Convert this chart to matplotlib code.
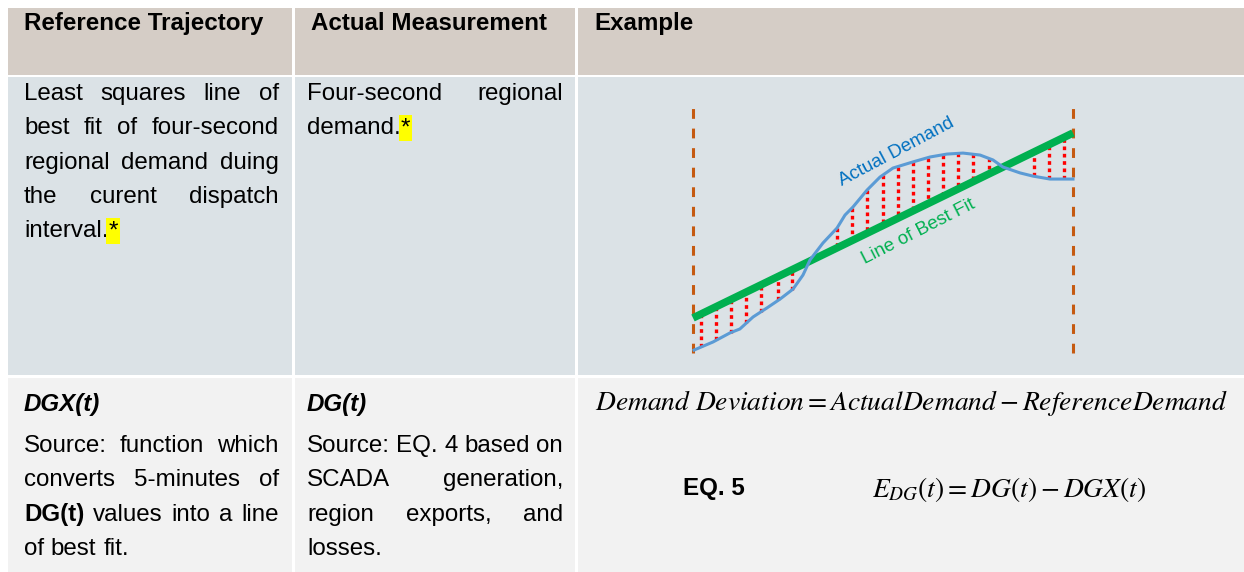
import numpy as np
import matplotlib
matplotlib.use('Agg')
import matplotlib.pyplot as plt
from matplotlib.patches import Rectangle

plt.rcParams['font.family'] = ['Liberation Sans', 'DejaVu Sans']
plt.rcParams['mathtext.fontset'] = 'stix'

# ---- table content ----
headers = ['Reference Trajectory', 'Actual Measurement', 'Example']
ref_lines = ['Least squares line of', 'best fit of four-second',
             'regional demand duing', 'the curent dispatch', 'interval.*']
act_lines = ['Four-second regional', 'demand.*']
dgx_title = 'DGX(t)'
dgx_lines = ['Source: function which', 'converts 5-minutes of',
             '**DG(t) values into a line', 'of best fit.']
dg_title = 'DG(t)'
dg_lines = ['Source: EQ. 4 based on', 'SCADA generation,',
            'region exports, and', 'losses.']
eq_deviation = r'$Demand\ Deviation = ActualDemand - ReferenceDemand$'
eq_label = 'EQ. 5'
eq_error = r'$E_{DG}(t) = DG(t) - DGX(t)$'

# ---- example chart data (seconds in the 5-minute interval, demand 0-100) ----
demand_t = [0.8, 15.8, 29.2, 37, 47.4, 58.4, 68.7, 79, 86.8, 92.4, 102.6,
            113.7, 120, 126.3, 137.4, 147.6, 157.9, 173.7, 187.1, 200.5,
            213.2, 226.6, 236.8, 244.7, 258.2, 268.4, 281.8, 300]
demand_v = [1.2, 4.5, 8.2, 9.8, 14.7, 18.4, 22, 26.1, 31.8, 38, 44.9,
            51, 56.3, 59.6, 66.5, 71.8, 75.5, 78, 80, 81.2,
            81.6, 80.8, 78.8, 75.9, 73.5, 72.2, 71, 71]
fit_t = [0, 300]
fit_v = [14.3, 89.8]
dev_t = [6.3, 18.2, 30, 41.8, 53.7, 67.1, 78.2, 113.7, 125.5, 137.4, 150,
         161.8, 173.7, 185.5, 197.4, 209.2, 221, 233.7, 269.2, 281.1, 292.9]

W, H = 1244, 572
FS = 17.4

fig = plt.figure(figsize=(W / 100, H / 100), dpi=100)
fig.patch.set_facecolor('white')
ax = fig.add_axes([0, 0, 1, 1])
ax.set_xlim(0, W)
ax.set_ylim(H, 0)
ax.axis('off')
r = fig.canvas.get_renderer()

# cells
cols = [(8, 292), (295, 575), (578, 1244)]
rows = [(8, 75, '#d5cdc6'), (77, 375, '#dbe2e6'), (378, 572, '#f2f2f2')]
for y0, y1, c in rows:
    for x0, x1 in cols:
        ax.add_patch(Rectangle((x0, y0), x1 - x0, y1 - y0, fc=c, ec='none'))


def width(t):
    return t.get_window_extent(renderer=r).width


def put_line(x0, x1, yb, line, justify):
    pieces = []
    for w in line.split(' '):
        bold = w.startswith('**')
        star = (not bold) and w.endswith('*')
        w = w[2:] if bold else (w[:-1] if star else w)
        t = ax.text(0, yb, w, fontsize=FS, va='baseline',
                    fontweight='bold' if bold else 'normal')
        s = None
        if star:
            s = ax.text(0, yb, '*', fontsize=FS, va='baseline',
                        bbox=dict(boxstyle='square,pad=0.08', fc='#ffff00', ec='none'))
        pieces.append((t, s))
    ws = [width(t) + (width(s) if s else 0) for t, s in pieces]
    if justify and len(pieces) > 1:
        gap = (x1 - x0 - sum(ws)) / (len(pieces) - 1)
    else:
        a = ax.text(0, 0, 'a a', fontsize=FS)
        b = ax.text(0, 0, 'aa', fontsize=FS)
        gap = width(a) - width(b)
        a.remove(); b.remove()
    x = x0
    for (t, s), w in zip(pieces, ws):
        t.set_x(x)
        if s:
            s.set_x(x + width(t))
        x += w + gap


def put_par(x0, x1, yb, lines, step=34.3):
    for i, ln in enumerate(lines):
        put_line(x0, x1, yb + i * step, ln, i < len(lines) - 1)


# headers
for (x0, x1), h in zip(cols, headers):
    ax.text(x0 + 16, 30, h, fontsize=FS, fontweight='bold', va='baseline')

put_par(24, 279, 100, ref_lines)
put_par(307, 563, 100, act_lines)

ax.text(24, 411, dgx_title, fontsize=FS, fontweight='bold', style='italic', va='baseline')
ax.text(307, 411, dg_title, fontsize=FS, fontweight='bold', style='italic', va='baseline')
put_par(24, 279, 452, dgx_lines)
put_par(307, 563, 452, dg_lines)

ax.text(912, 403, eq_deviation, fontsize=19.8, ha='center', va='center')
ax.text(683, 489, eq_label, fontsize=FS, fontweight='bold', va='center')
ax.text(872, 489, eq_error, fontsize=19.8, ha='left', va='center')

# example chart
cx = fig.add_axes([693 / W, (H - 353) / H, 380 / W, 245 / H])
cx.set_xlim(0, 300)
cx.set_ylim(0, 100)
cx.axis('off')
for t in fit_t:
    cx.axvline(t, color='#c55a11', lw=2.2, ls=(0, (3.2, 3.2)), clip_on=False)
dem_at = np.interp(dev_t, demand_t, demand_v)
fit_at = np.interp(dev_t, fit_t, fit_v)
for t, a, b in zip(dev_t, dem_at, fit_at):
    cx.plot([t, t], [a, b], color='#ff0000', lw=2.4, ls=(0, (1.1, 1.1)), clip_on=False)
cx.plot(fit_t, fit_v, color='#00b050', lw=5.5, solid_capstyle='butt', clip_on=False)
cx.plot(demand_t, demand_v, color='#5b9bd5', lw=2.2, clip_on=False)
cx.text(161, 82, 'Actual Demand', color='#0070c0', fontsize=13.5,
        rotation=28, ha='center', va='center')
cx.text(178, 49.5, 'Line of Best Fit', color='#00b050', fontsize=13.5,
        rotation=27, ha='center', va='center')

fig.savefig('out.png', dpi=100)
